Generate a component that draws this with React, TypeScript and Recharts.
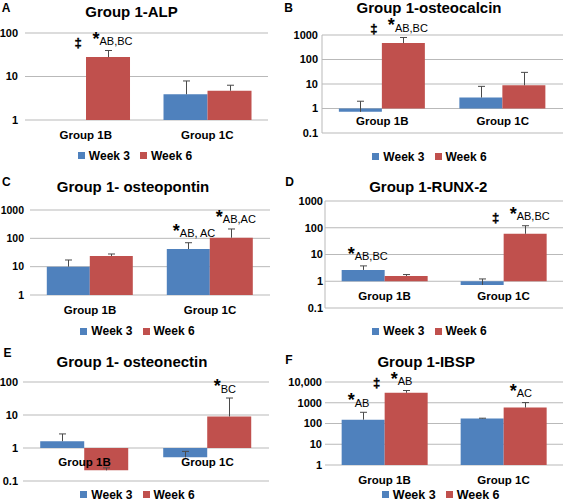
import React from 'react';
import { BarChart, Bar, XAxis, YAxis, CartesianGrid, Legend, ReferenceDot, LabelList } from 'recharts';

const FONT = '"Liberation Sans", Arial, Helvetica, sans-serif';
const BLUE = '#4F81BD';
const RED = '#C0504D';
const GRID = '#b9b9b9';
const ERR = '#4a4a4a';

const categories = ['Group 1B', 'Group 1C'];
const seriesNames = ['Week 3', 'Week 6'];

// A – ALP
const alpWeek3 = [null, 3.9];
const alpWeek3Err = [null, 4.0];
const alpWeek6 = [27.9, 4.7];
const alpWeek6Err = [11.7, 1.6];
const alpWeek3Notes = ['', ''];
const alpWeek6Notes = ['*AB,BC', ''];
const alpWeek6Marks = ['‡', ''];
const alpTicks = [1, 10, 100];

// B – osteocalcin
const ocnWeek3 = [0.73, 2.8];
const ocnWeek3Err = [1.25, 5.2];
const ocnWeek6 = [468, 8.85];
const ocnWeek6Err = [323, 21];
const ocnWeek3Notes = ['', ''];
const ocnWeek6Notes = ['*AB,BC', ''];
const ocnWeek6Marks = ['‡', ''];
const ocnTicks = [0.1, 1, 10, 100, 1000];

// C – osteopontin
const opnWeek3 = [10, 42];
const opnWeek3Err = [7.2, 28];
const opnWeek6 = [23.8, 105];
const opnWeek6Err = [4.2, 109];
const opnWeek3Notes = ['', '*AB, AC'];
const opnWeek6Notes = ['', '*AB,AC'];
const opnWeek6Marks = ['', ''];
const opnTicks = [1, 10, 100, 1000];

// D – RUNX-2
const runxWeek3 = [2.65, 0.73];
const runxWeek3Err = [1.1, 0.49];
const runxWeek6 = [1.58, 59.5];
const runxWeek6Err = [0.2, 59.5];
const runxWeek3Notes = ['*AB,BC', ''];
const runxWeek6Notes = ['', '*AB,BC'];
const runxWeek6Marks = ['', '‡'];
const runxTicks = [0.1, 1, 10, 100, 1000];

// E – osteonectin
const onWeek3 = [1.6, 0.52];
const onWeek3Err = [1.07, 0.27];
const onWeek6 = [0.21, 9.0];
const onWeek6Err = [0.04, 23.7];
const onWeek3Notes = ['', ''];
const onWeek6Notes = ['', '*BC'];
const onWeek6Marks = ['', ''];
const onTicks = [0.1, 1, 10, 100];

// F – IBSP
const ibspWeek3 = [153, 172];
const ibspWeek3Err = [194, 8];
const ibspWeek6 = [3020, 585];
const ibspWeek6Err = [870, 435];
const ibspWeek3Notes = ['*AB', ''];
const ibspWeek6Notes = ['*AB', '*AC'];
const ibspWeek6Marks = ['‡', ''];
const ibspTicks = [1, 10, 100, 1000, 10000];

type Num = number | null;
type Row = { cat: string; w3: Num; e3: Num; w6: Num; e6: Num; n3: string; n6: string; m6: string };

const buildRows = (w3: Num[], e3: Num[], w6: Num[], e6: Num[], n3: string[], n6: string[], m6: string[]): Row[] =>
  categories.map((cat, i) => ({ cat, w3: w3[i], e3: e3[i], w6: w6[i], e6: e6[i], n3: n3[i], n6: n6[i], m6: m6[i] }));

const bar3 = (r: Row) => (r.w3 == null ? null : [1, r.w3]);
const bar6 = (r: Row) => (r.w6 == null ? null : [1, r.w6]);
const err3 = (r: Row) => (r.w3 == null || r.e3 == null ? null : [r.w3, r.w3 + r.e3]);
const err6 = (r: Row) => (r.w6 == null || r.e6 == null ? null : [r.w6, r.w6 + r.e6]);

const fmt = (v: number) => (v >= 10000 ? v.toLocaleString('en-US') : String(v));

const ErrShape = (p: any) => {
  const { x, y, width, height } = p;
  if (![x, y, width, height].every((n) => Number.isFinite(n))) return null;
  const cx = Math.round(x + width / 2) + 0.5;
  return (
    <g>
      <line x1={cx} x2={cx} y1={y} y2={y + height} stroke={ERR} strokeWidth={1} />
      <line x1={cx - 3.5} x2={cx + 3.5} y1={y} y2={y} stroke={ERR} strokeWidth={1} />
    </g>
  );
};

const getBox = (props: any) => {
  const vb = props.viewBox || props;
  return { x: vb.x, y: vb.y, width: vb.width };
};

const renderNote = (props: any) => {
  const v = props.value;
  const { x, y, width } = getBox(props);
  if (!v || !Number.isFinite(x) || !Number.isFinite(y)) return null;
  const cx = x + width / 2;
  return (
    <text x={cx - 15.5} y={y - 6} fill="#000" fontFamily={FONT}>
      <tspan fontSize={18} fontWeight="bold">*</tspan>
      <tspan fontSize={11} dy={0.5}>{String(v).slice(1)}</tspan>
    </text>
  );
};

const renderMark = (props: any) => {
  const v = props.value;
  const { x, y } = getBox(props);
  if (!v || !Number.isFinite(x) || !Number.isFinite(y)) return null;
  return (
    <text x={x - 8} y={y - 4} textAnchor="middle" fill="#000" fontFamily={FONT} fontSize={13} fontWeight="bold" stroke="#000" strokeWidth={0.4}>
      {v}
    </text>
  );
};

type Layout = {
  left: number;
  top: number;
  axisW: number;
  margin: { top: number; right: number; bottom: number; left: number };
  tickMargin: number;
  tickFont: number;
  axisLine: boolean;
  letter: [number, number];
  title: [number, number];
  legend: [number, number];
  legendFont: number;
  catOffset: number;
};

type PanelProps = { letter: string; title: string; rows: Row[]; ticks: number[]; lay: Layout };

const centered = (cx: number, cy: number, size: number, lh: number): React.CSSProperties => ({
  position: 'absolute',
  left: cx,
  top: cy,
  transform: 'translate(-50%, -50%)',
  fontSize: size,
  fontWeight: 'bold',
  lineHeight: lh,
  whiteSpace: 'nowrap',
  color: '#000',
});

const Panel = ({ letter, title, rows, ticks, lay }: PanelProps) => {
  const W = 282;
  const H = 167;
  return (
    <>
      <div style={centered(lay.letter[0], lay.letter[1], 12, 1)}>{letter}</div>
      <div style={centered(lay.title[0], lay.title[1], 15, 0.7)}>{title}</div>
      <div style={{ position: 'absolute', left: lay.left, top: lay.top, width: W, height: H }}>
        <BarChart width={W} height={H} data={rows} margin={lay.margin} barGap={0} barCategoryGap="14%">
          <CartesianGrid horizontal vertical={false} stroke={GRID} />
          <XAxis dataKey="cat" hide />
          <XAxis dataKey="cat" xAxisId="err" hide />
          <YAxis
            type="number"
            scale="log"
            domain={[ticks[0], ticks[ticks.length - 1]]}
            allowDataOverflow
            ticks={ticks}
            interval={0}
            width={lay.axisW}
            tickSize={0}
            tickMargin={lay.tickMargin}
            tickLine={false}
            axisLine={lay.axisLine ? { stroke: GRID } : false}
            tick={{ fill: '#000', fontSize: lay.tickFont, fontWeight: 'bold', fontFamily: FONT }}
            tickFormatter={fmt}
          />
          <Bar dataKey={bar3} name={seriesNames[0]} fill={BLUE} isAnimationActive={false} />
          <Bar dataKey={bar6} name={seriesNames[1]} fill={RED} isAnimationActive={false} />
          <Bar xAxisId="err" dataKey={err3} name="err3" fill="none" legendType="none" shape={ErrShape} isAnimationActive={false}>
            <LabelList dataKey="n3" content={renderNote} />
          </Bar>
          <Bar xAxisId="err" dataKey={err6} name="err6" fill="none" legendType="none" shape={ErrShape} isAnimationActive={false}>
            <LabelList dataKey="n6" content={renderNote} />
            <LabelList dataKey="m6" content={renderMark} />
          </Bar>
          {categories.map((c) => (
            <ReferenceDot
              key={c}
              x={c}
              y={1}
              r={0}
              fill="none"
              stroke="none"
              ifOverflow="visible"
              label={{
                value: c,
                position: 'bottom',
                offset: lay.catOffset,
                fill: '#000',
                fontSize: 11.5,
                fontWeight: 'bold',
                fontFamily: FONT,
              }}
            />
          ))}
          <Legend
            layout="horizontal"
            verticalAlign="middle"
            align="center"
            iconType="square"
            iconSize={7}
            wrapperStyle={{
              left: lay.legend[0] - lay.left - 90 + 5,
              top: lay.legend[1] - lay.top - 7,
              width: 180,
              lineHeight: '14px',
            }}
            formatter={(value: any) => (
              <span style={{ color: '#000', fontWeight: 'bold', fontSize: lay.legendFont, fontFamily: FONT }}>{value}</span>
            )}
          />
        </BarChart>
      </div>
    </>
  );
};

const layouts: Record<string, Layout> = {
  A: { left: 0, top: 0, axisW: 24, margin: { top: 33, right: 14, bottom: 47, left: 1 }, tickMargin: 7, tickFont: 11, axisLine: false, letter: [6, 8], title: [131.5, 11.7], legend: [135, 155], legendFont: 12, catOffset: 11 },
  B: { left: 282, top: 0, axisW: 39, margin: { top: 35, right: 1, bottom: 34, left: 1 }, tickMargin: 4, tickFont: 11, axisLine: true, letter: [288.5, 8], title: [429, 8], legend: [429.5, 155.7], legendFont: 12, catOffset: 8 },
  C: { left: 0, top: 167, axisW: 29, margin: { top: 43, right: 12, bottom: 39, left: 1 }, tickMargin: 6, tickFont: 10.5, axisLine: false, letter: [6.3, 182], title: [133, 187], legend: [137.5, 330.3], legendFont: 12, catOffset: 11 },
  D: { left: 282, top: 167, axisW: 42, margin: { top: 34, right: 1, bottom: 26, left: 1 }, tickMargin: 2, tickFont: 11, axisLine: true, letter: [289.5, 182], title: [428.3, 187], legend: [429.5, 330.3], legendFont: 12, catOffset: 10.5 },
  E: { left: 0, top: 334, axisW: 22, margin: { top: 48, right: 13, bottom: 20, left: 1 }, tickMargin: 5, tickFont: 11, axisLine: false, letter: [7.5, 353], title: [132, 362.3], legend: [137.5, 494], legendFont: 12, catOffset: 10 },
  F: { left: 282, top: 334, axisW: 42, margin: { top: 48, right: 1, bottom: 36, left: 1 }, tickMargin: 3, tickFont: 11, axisLine: false, letter: [289, 360], title: [426.2, 362.3], legend: [440.7, 494], legendFont: 12.5, catOffset: 10.7 },
};

export default function App() {
  return (
    <div
      style={{
        position: 'absolute',
        left: 0,
        top: 0,
        width: 564,
        height: 501,
        background: '#fff',
        overflow: 'hidden',
        fontFamily: FONT,
      }}
    >
      <Panel letter="A" title="Group 1-ALP" ticks={alpTicks} lay={layouts.A}
        rows={buildRows(alpWeek3, alpWeek3Err, alpWeek6, alpWeek6Err, alpWeek3Notes, alpWeek6Notes, alpWeek6Marks)} />
      <Panel letter="B" title="Group 1-osteocalcin" ticks={ocnTicks} lay={layouts.B}
        rows={buildRows(ocnWeek3, ocnWeek3Err, ocnWeek6, ocnWeek6Err, ocnWeek3Notes, ocnWeek6Notes, ocnWeek6Marks)} />
      <Panel letter="C" title="Group 1- osteopontin" ticks={opnTicks} lay={layouts.C}
        rows={buildRows(opnWeek3, opnWeek3Err, opnWeek6, opnWeek6Err, opnWeek3Notes, opnWeek6Notes, opnWeek6Marks)} />
      <Panel letter="D" title="Group 1-RUNX-2" ticks={runxTicks} lay={layouts.D}
        rows={buildRows(runxWeek3, runxWeek3Err, runxWeek6, runxWeek6Err, runxWeek3Notes, runxWeek6Notes, runxWeek6Marks)} />
      <Panel letter="E" title="Group 1- osteonectin" ticks={onTicks} lay={layouts.E}
        rows={buildRows(onWeek3, onWeek3Err, onWeek6, onWeek6Err, onWeek3Notes, onWeek6Notes, onWeek6Marks)} />
      <Panel letter="F" title="Group 1-IBSP" ticks={ibspTicks} lay={layouts.F}
        rows={buildRows(ibspWeek3, ibspWeek3Err, ibspWeek6, ibspWeek6Err, ibspWeek3Notes, ibspWeek6Notes, ibspWeek6Marks)} />
    </div>
  );
}
